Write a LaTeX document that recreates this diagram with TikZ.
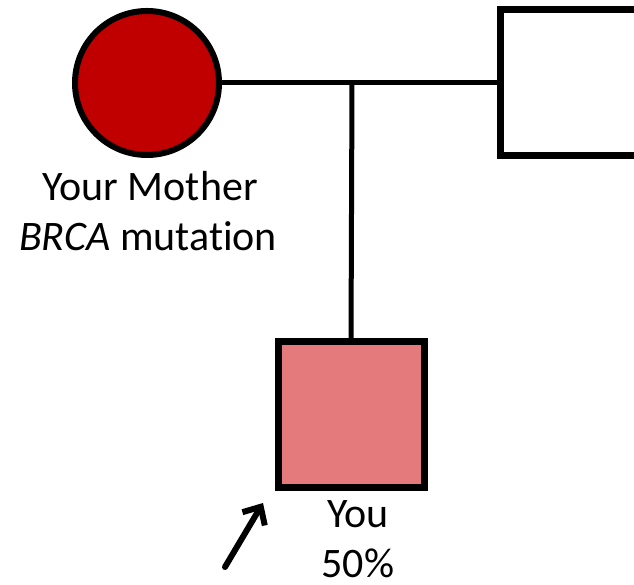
\documentclass[tikz,border=0pt]{standalone}
\usepackage{fontspec}
\setmainfont{Carlito}[Ligatures=NoCommon]
\usetikzlibrary{arrows.meta}
\definecolor{motherred}{RGB}{192,0,0}
\definecolor{childpink}{RGB}{228,122,124}
\tikzset{
  person/.style={draw=black, line width=6pt, inner sep=0pt, outer sep=0pt},
  link/.style={draw=black, line width=5pt},
  lbl/.style={font=\fontsize{42}{52}\selectfont, anchor=base, inner sep=0pt, align=center},
}
\begin{document}
\begin{tikzpicture}[x=1pt,y=1pt]
\useasboundingbox (0,0) rectangle (634,585);
\clip (0,0) rectangle (634,585);
\node[person, circle, fill=motherred, minimum size=144pt] (mother) at (147,502) {};
\node[person, rectangle, fill=white, line width=7pt, minimum size=146pt] (father) at (573,502) {};
\node[person, rectangle, fill=childpink, line width=7pt, minimum size=146pt] (you) at (351,170) {};
\coordinate (junction) at (352,502);
\draw[link] (mother.east) -- (father.west);
\draw[link] (junction) -- (you.north);
\node[lbl] (mlabel1) at (150,384) {Your Mother};
\node[lbl] (mlabel2) at (148,334) {\itshape BRCA\upshape{} mutation};
\node[lbl] (ylabel1) at (358,57) {You};
\node[lbl] (ylabel2) at (358,7) {50\%};
\coordinate (arrowtail) at (225,18);
\coordinate (arrowtip) at (263,82);
\draw[link, line width=6pt, line cap=round, -{Straight Barb[length=14pt,width=26pt]}] (arrowtail) -- (arrowtip);
\end{tikzpicture}
\end{document}
